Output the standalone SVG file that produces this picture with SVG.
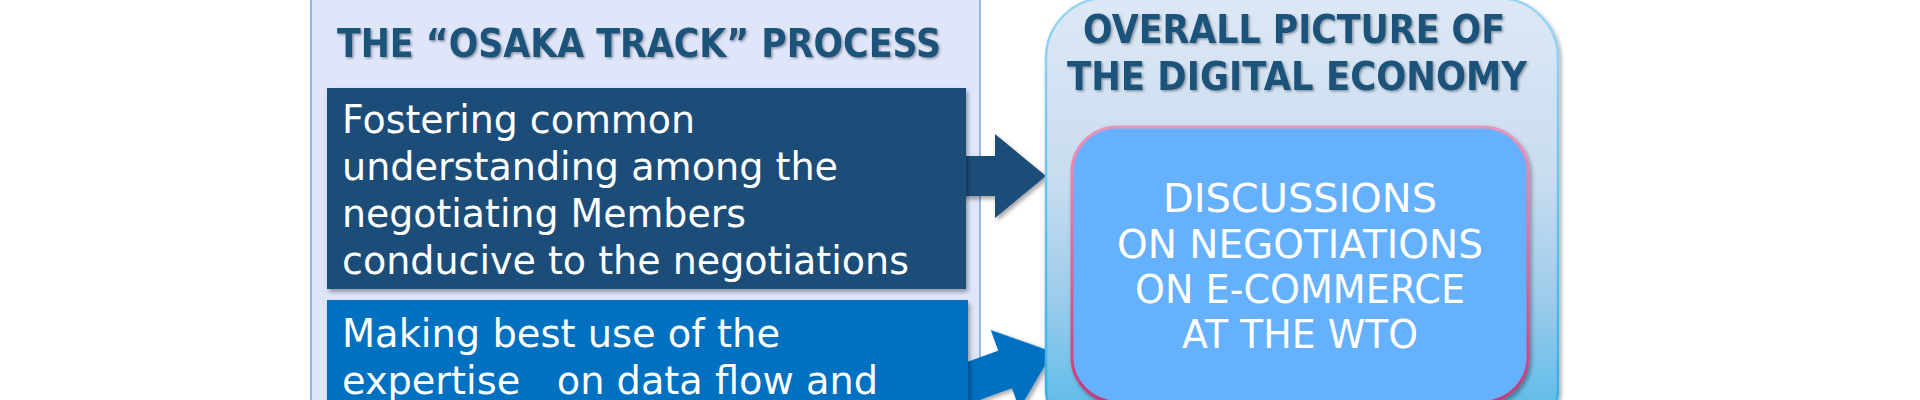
<svg xmlns="http://www.w3.org/2000/svg" width="1920" height="400" viewBox="0 0 1920 400">
  <defs>
    <linearGradient id="gOuter" x1="0" y1="0" x2="0" y2="400" gradientUnits="userSpaceOnUse">
      <stop offset="0" stop-color="#dde8f5"/>
      <stop offset="0.45" stop-color="#c8dcf0"/>
      <stop offset="0.75" stop-color="#9ccceb"/>
      <stop offset="1" stop-color="#63bde9"/>
    </linearGradient>
    <linearGradient id="gOuterStroke" x1="0" y1="0" x2="0" y2="400" gradientUnits="userSpaceOnUse">
      <stop offset="0" stop-color="#9ad5f8"/>
      <stop offset="1" stop-color="#3aaee6"/>
    </linearGradient>
    <linearGradient id="gPink" x1="0" y1="127" x2="0" y2="402" gradientUnits="userSpaceOnUse">
      <stop offset="0" stop-color="#ec94bb"/>
      <stop offset="1" stop-color="#c33b7b"/>
    </linearGradient>
    <filter id="shadow" x="-10%" y="-10%" width="120%" height="130%">
      <feDropShadow dx="2" dy="3" stdDeviation="2" flood-color="#000" flood-opacity="0.35"/>
    </filter>
    <filter id="tshadow" x="-5%" y="-20%" width="110%" height="150%">
      <feDropShadow dx="1.5" dy="1.5" stdDeviation="1" flood-color="#000" flood-opacity="0.35"/>
    </filter>
  </defs>
  <style>
    .title { font-family: "DejaVu Sans", "Liberation Sans", sans-serif; font-weight: bold; font-size: 39px; fill: #1f527a; }
    .body { font-family: "DejaVu Sans", "Liberation Sans", sans-serif; font-size: 39px; fill: #ffffff; }
    .center { text-anchor: middle; }
  </style>
  <rect width="1920" height="400" fill="#ffffff"/>

  <g id="osaka-track">
    <rect x="311" y="-5" width="669" height="415" fill="#dfe6fa" stroke="#7aa3da" stroke-width="1.5"/>
    <text class="title" x="337" y="57" textLength="604" lengthAdjust="spacingAndGlyphs" filter="url(#tshadow)">THE “OSAKA TRACK” PROCESS</text>
  </g>

  <g id="connectors">
    <polygon points="960,156 995,156 995,134 1046,176 995,218 995,196 960,196" fill="#1f4e79" filter="url(#shadow)"/>
    <polygon points="-120,-20 -51,-20 -51,-42 0,0 -51,42 -51,20 -120,20" fill="#0070c0" transform="translate(1053,352) rotate(-20)" filter="url(#shadow)"/>
  </g>

  <g id="fostering">
    <rect x="327" y="88" width="639" height="201" fill="#1f4e79" filter="url(#shadow)"/>
    <text class="body" x="342" y="133" textLength="353" lengthAdjust="spacingAndGlyphs">Fostering common</text>
    <text class="body" x="342" y="180" textLength="496" lengthAdjust="spacingAndGlyphs">understanding among the</text>
    <text class="body" x="342" y="227" textLength="404" lengthAdjust="spacingAndGlyphs">negotiating Members</text>
    <text class="body" x="342" y="274" textLength="567" lengthAdjust="spacingAndGlyphs">conducive to the negotiations</text>
  </g>

  <g id="making-best-use">
    <rect x="327" y="300" width="641" height="115" fill="#0070c0" filter="url(#shadow)"/>
    <text class="body" x="342" y="347" textLength="438" lengthAdjust="spacingAndGlyphs">Making best use of the</text>
    <text class="body" x="342" y="394" textLength="536" lengthAdjust="spacingAndGlyphs" xml:space="preserve">expertise   on data flow and</text>
  </g>

  <g id="overall-picture">
    <rect x="1046" y="-2" width="512" height="450" rx="60" ry="60" fill="url(#gOuter)" stroke="url(#gOuterStroke)" stroke-width="2.5" filter="url(#shadow)"/>
    <text class="title center" x="1294" y="43" textLength="422" lengthAdjust="spacingAndGlyphs" filter="url(#tshadow)">OVERALL PICTURE OF</text>
    <text class="title center" x="1297" y="90" textLength="460" lengthAdjust="spacingAndGlyphs" filter="url(#tshadow)">THE DIGITAL ECONOMY</text>
  </g>

  <g id="discussions">
    <rect x="1072" y="127" width="456" height="275" rx="45" ry="45" fill="#66b1fd" stroke="url(#gPink)" stroke-width="3" filter="url(#shadow)"/>
    <text class="body center" x="1300" y="212" textLength="274" lengthAdjust="spacingAndGlyphs">DISCUSSIONS</text>
    <text class="body center" x="1300" y="258" textLength="366" lengthAdjust="spacingAndGlyphs">ON NEGOTIATIONS</text>
    <text class="body center" x="1300" y="303" textLength="330" lengthAdjust="spacingAndGlyphs">ON E-COMMERCE</text>
    <text class="body center" x="1300" y="348" textLength="236" lengthAdjust="spacingAndGlyphs">AT THE WTO</text>
  </g>
</svg>
